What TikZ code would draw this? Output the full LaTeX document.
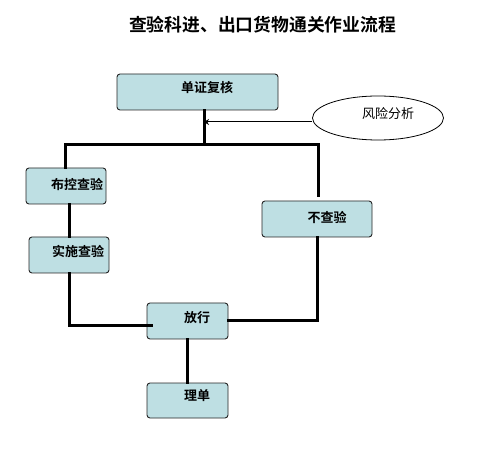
\documentclass[tikz,border=0pt]{standalone}
\usepackage{fontspec}
\newfontfamily\cjk{Noto Sans CJK SC}[BoldFont={Noto Sans CJK SC Bold}]
\usetikzlibrary{shapes.geometric,arrows.meta}
\definecolor{boxfill}{RGB}{190,223,227}
\tikzset{
  box/.style={draw=black!85, line width=0.9pt, fill=boxfill, rounded corners=3pt, inner sep=0pt},
  btext/.style={font=\cjk\bfseries\fontsize{13}{15}\selectfont, inner sep=0pt},
  conn/.style={line width=3pt, line cap=rect},
  thinarrow/.style={line width=1pt, -{Stealth[length=5pt,width=6pt]}},
}
\begin{document}
\begin{tikzpicture}[x=1pt,y=-1pt]
\useasboundingbox (0,0) rectangle (482,454);
\fill[white] (0,0) rectangle (482,454);
% title
\node[font=\cjk\bfseries\fontsize{17.8}{20}\selectfont, inner sep=0pt] (title) at (262.5,25) {查验科进、出口货物通关作业流程};
% boxes
\node[box, minimum width=161pt, minimum height=36pt] (a) at (197.5,92) {};
\node[btext] (at) at (207,88) {单证复核};
\node[box, minimum width=80pt, minimum height=36pt] (b) at (66,186) {};
\node[btext] (bt) at (77,184) {布控查验};
\node[box, minimum width=110pt, minimum height=36pt] (c) at (317,219) {};
\node[btext] (ct) at (327,217) {不查验};
\node[box, minimum width=80pt, minimum height=36pt] (d) at (69,255) {};
\node[btext] (dt) at (78,251) {实施查验};
\node[box, minimum width=81pt, minimum height=36pt] (e) at (187.5,321) {};
\node[btext] (et) at (197,318) {放行};
\node[box, minimum width=81pt, minimum height=35pt] (f) at (187.5,400.5) {};
\node[btext] (ft) at (197,396) {理单};
% ellipse
\node[draw=black, line width=0.8pt, ellipse, minimum width=131pt, minimum height=44pt, inner sep=0pt] (r) at (378,118) {};
\node[font=\cjk\fontsize{13}{15}\selectfont, inner sep=0pt] (rt) at (388,114) {风险分析};
% junction coordinates
\coordinate (j) at (204,145);
\coordinate (jl) at (65,145);
\coordinate (jr) at (318,145);
\coordinate (arr) at (204,122);
% connectors
\draw[conn] (a.south -| j) -- (j);
\draw[conn] (jl) -- (jr);
\draw[conn] (jl) -- (b.north -| jl);
\draw[conn] (jr) -- ([yshift=5pt]c.north -| jr);
\draw[conn] (b.south -| d.north) -- (d.north);
\draw[conn] (d.south) |- ([xshift=5pt,yshift=-5pt]e.west);
\draw[conn] (e.east) -| (c.south);
\draw[conn] (e.south) -- (f.north);
\draw[thinarrow] (r.west |- arr) -- (arr);
\end{tikzpicture}
\end{document}
